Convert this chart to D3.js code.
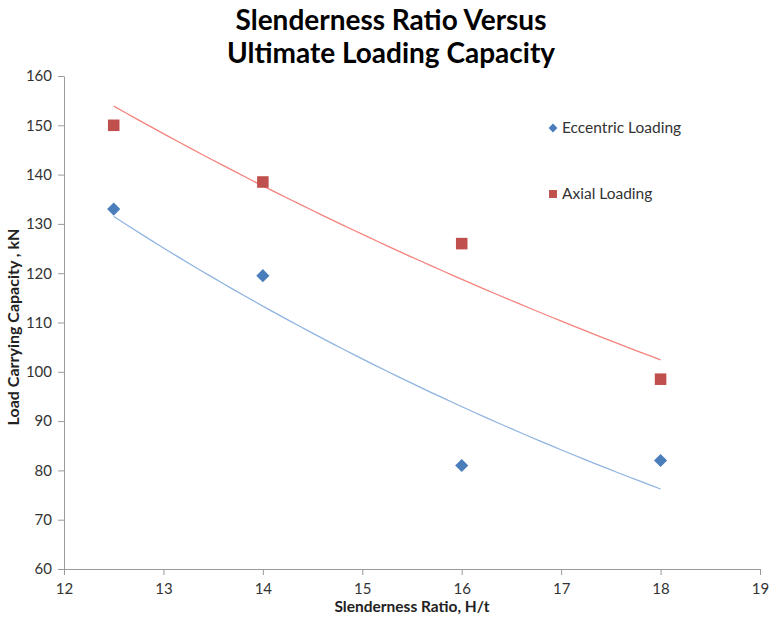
<!DOCTYPE html>
<html>
<head>
<meta charset="utf-8">
<script src="https://cdn.jsdelivr.net/npm/d3@7"></script>
<style>
  body { margin: 0; background: #fff; }
  text { font-family: Lato, "Open Sans", sans-serif; }
</style>
</head>
<body>
<div id="main"></div>
<script>
// values
const slenderness = [12.5, 14, 16, 18];
const eccentric = [133, 119.5, 81, 82];
const axial = [150, 138.5, 126, 98.5];
const seriesNames = ["Eccentric Loading", "Axial Loading"];
const xTicks = [12, 13, 14, 15, 16, 17, 18, 19];
const yTicks = [60, 70, 80, 90, 100, 110, 120, 130, 140, 150, 160];

const ctx = {width: 769, height: 626,
  left: 64, right: 760, top: 76, bottom: 569};

let svg = d3.select("#main")
  .append("svg")
  .attr("width", ctx.width)
  .attr("height", ctx.height);

let x = d3.scaleLinear().domain([12, 19]).range([ctx.left, ctx.right]);
let y = d3.scaleLinear().domain([60, 160]).range([ctx.bottom, ctx.top]);

// exponential trendline, like excel does it (least squares on ln y)
function expFit(xs, ys){
  let ly = ys.map(Math.log);
  let mx = d3.mean(xs), my = d3.mean(ly);
  let sxy = d3.sum(xs, (v, i) => (v - mx) * (ly[i] - my));
  let sxx = d3.sum(xs, v => (v - mx) * (v - mx));
  let b = sxy / sxx, a = my - b * mx;
  return v => Math.exp(a + b * v);
}

// title
svg.append("text")
  .attr("x", 391).attr("y", 30)
  .attr("text-anchor", "middle")
  .attr("font-size", 28).attr("font-weight", "bold")
  .attr("fill", "#000")
  .text("Slenderness Ratio Versus");
svg.append("text")
  .attr("x", 391).attr("y", 63)
  .attr("text-anchor", "middle")
  .attr("font-size", 28).attr("font-weight", "bold")
  .attr("fill", "#000")
  .text("Ultimate Loading Capacity");

// axes
let xAxis = svg.append("g")
  .attr("transform", "translate(0," + ctx.bottom + ")")
  .call(d3.axisBottom(x).tickValues(xTicks).tickFormat(d3.format("d"))
    .tickSize(6).tickSizeOuter(0).tickPadding(8));
let yAxis = svg.append("g")
  .attr("transform", "translate(" + ctx.left + ",0)")
  .call(d3.axisLeft(y).tickValues(yTicks).tickSize(6).tickSizeOuter(0).tickPadding(6));

[xAxis, yAxis].forEach(function(g){
  g.select(".domain").attr("stroke", "#9a9a9a");
  g.selectAll(".tick line").attr("stroke", "#9a9a9a");
  g.selectAll(".tick text")
    .attr("font-size", 15)
    .attr("font-family", "Lato, sans-serif")
    .attr("fill", "#333");
});

// axis titles
svg.append("text")
  .attr("x", 412).attr("y", 612)
  .attr("text-anchor", "middle")
  .attr("font-size", 15.5).attr("font-weight", "bold")
  .attr("fill", "#222")
  .text("Slenderness Ratio, H/t");
svg.append("text")
  .attr("transform", "translate(19,327) rotate(-90)")
  .attr("text-anchor", "middle")
  .attr("font-size", 16).attr("font-weight", "bold")
  .attr("fill", "#222")
  .text("Load Carrying Capacity , kN");

// trendlines
let line = d3.line().x(d => x(d[0])).y(d => y(d[1]));
let xs = d3.range(0, 51).map(i => 12.5 + i * (18 - 12.5) / 50);

let fitE = expFit(slenderness, eccentric);
let fitA = expFit(slenderness, axial);

svg.append("path")
  .attr("d", line(xs.map(v => [v, fitA(v)])))
  .attr("fill", "none").attr("stroke", "#f4837d").attr("stroke-width", 1.3);
svg.append("path")
  .attr("d", line(xs.map(v => [v, fitE(v)])))
  .attr("fill", "none").attr("stroke", "#8fb4e0").attr("stroke-width", 1.3);

// points
let diamond = d3.symbol().type(d3.symbolDiamond2).size(110);
let square = d3.symbol().type(d3.symbolSquare2).size(170);

svg.append("g").selectAll("path")
  .data(slenderness.map((v, i) => [v, eccentric[i]]))
  .enter().append("path")
  .attr("d", diamond)
  .attr("transform", d => "translate(" + x(d[0]) + "," + y(d[1]) + ")")
  .attr("fill", "#4a7ebb");

svg.append("g").selectAll("path")
  .data(slenderness.map((v, i) => [v, axial[i]]))
  .enter().append("path")
  .attr("d", square)
  .attr("transform", d => "translate(" + x(d[0]) + "," + y(d[1]) + ")")
  .attr("fill", "#c0504d");

// legend
let legend = svg.append("g");
legend.append("path")
  .attr("d", d3.symbol().type(d3.symbolDiamond2).size(50))
  .attr("transform", "translate(553,128)")
  .attr("fill", "#4a7ebb");
legend.append("path")
  .attr("d", d3.symbol().type(d3.symbolSquare2).size(80))
  .attr("transform", "translate(553,194)")
  .attr("fill", "#c0504d");
legend.selectAll("text")
  .data(seriesNames)
  .enter().append("text")
  .attr("x", 562)
  .attr("y", (d, i) => i == 0 ? 133 : 199)
  .attr("font-size", 15.5)
  .attr("fill", "#333")
  .text(d => d);
</script>
</body>
</html>
